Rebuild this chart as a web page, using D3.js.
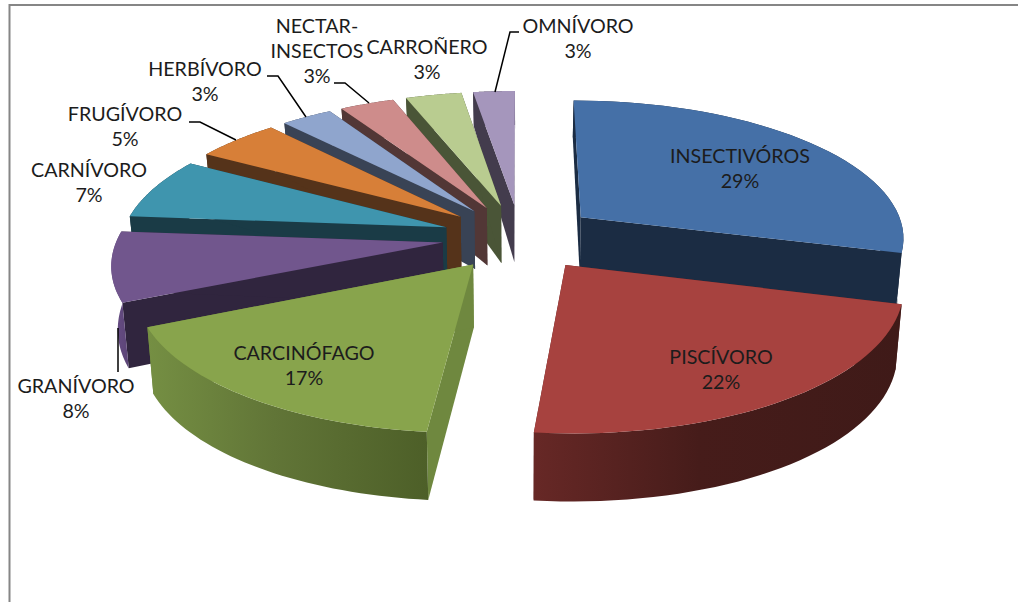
<!DOCTYPE html>
<html>
<head>
<meta charset="utf-8">
<script src="https://cdn.jsdelivr.net/npm/d3@7"></script>
<style>
  html, body { margin: 0; padding: 0; background: #fff; overflow: hidden; }
  svg { display: block; }
  text { font-family: Lato, "Noto Sans", sans-serif; font-size: 19.7px; fill: #1c1c1c; text-anchor: middle; }
</style>
</head>
<body>
<svg id="chart" width="1018" height="602"></svg>
<script>
// values
const categories = ["INSECTIVÓROS", "PISCÍVORO", "CARCINÓFAGO", "GRANÍVORO", "CARNÍVORO",
  "FRUGÍVORO", "HERBÍVORO", "NECTAR-INSECTOS", "CARROÑERO", "OMNÍVORO"];
// printed percentages
const percents = [29, 22, 17, 8, 7, 5, 3, 3, 3, 3];
// slice sizes as measured, the printed ones are rounded
const shares = [29.2, 22.4, 16.7, 8, 7.1, 4.87, 2.96, 3.14, 3.23, 2.4];

const topColors = ["#4570a7", "#a7423f", "#88a44c", "#71568d", "#3f95ae", "#d77f38", "#8fa5cd", "#ce8c8b", "#b9cc90", "#a596bc"];
const wallColors = ["#1b2c43", "#5a2220", "#6f883f", "#30253e", "#1a3b46", "#55331a", "#394355", "#523736", "#4a5537", "#433c4d"];
const outerLeft = ["#1b2c43", "#672826", "#758f43", "#6a5086", "#1a3b46", "#55331a", "#394355", "#523736", "#4a5537", "#433c4d"];
const outerMid = ["#1b2c43", "#461c1a", "#617537", "#634a80", "#1a3b46", "#55331a", "#394355", "#523736", "#4a5537", "#433c4d"];
const outerRight = ["#1b2c43", "#3f1a18", "#4d5f28", "#5c4577", "#1a3b46", "#55331a", "#394355", "#523736", "#4a5537", "#433c4d"];

// label placement, [x, y of first line]
const labelLines = [["INSECTIVÓROS"], ["PISCÍVORO"], ["CARCINÓFAGO"], ["GRANÍVORO"], ["CARNÍVORO"],
  ["FRUGÍVORO"], ["HERBÍVORO"], ["NECTAR-", "INSECTOS"], ["CARROÑERO"], ["OMNÍVORO"]];
const labelAt = [[740, 163], [721, 364], [304, 360], [76, 393], [89, 177], [125, 121], [205, 76], [317, 33], [427, 54], [578, 33]];
const leaders = [
  [[189, 122], [200, 122], [236, 140]],
  [[267, 76], [278, 76], [306, 117]],
  [[334, 83], [345, 83], [369, 103]],
  [[519, 32], [510, 32], [495, 92]],
  [[118, 328], [118, 372]]
];

const svg = d3.select("#chart");

// chart frame, only top and left show
svg.append("path")
  .attr("d", "M1018,5H9.5V602")
  .attr("fill", "none")
  .attr("stroke", "#868686")
  .attr("stroke-width", 2);

const cx = 520, cy = 237;
const x = d3.scaleLinear().domain([0, 1]).range([cx, cx + 325]);
const y = d3.scaleLinear().domain([0, 1]).range([cy, cy - 137.5]);
const persp = 0.135, explode = 0.24;

const project = (a, b) => {
  const s = 1 / (1 + persp * b);
  return [x(a * s), y(b * s)];
};
// extrusion gets shorter to the back of the pie
const depth = (b) => 60.7 - 13.7 * b - 6.3 * b * b;
const lower = (a, b) => {
  const p = project(a, b);
  return [cx + (p[0] - cx) * 0.984, p[1] + depth(b)];
};

const pie = d3.pie().sort(null).value((d) => d);
const arcs = pie(shares);

const sliceGeom = (d) => {
  const mid = (d.startAngle + d.endAngle) / 2;
  const ox = explode * Math.sin(mid);
  const oy = explode * Math.cos(mid);
  const steps = d3.range(0, 41).map((i) => d.startAngle + (d.endAngle - d.startAngle) * i / 40);
  const rim = steps.map((t) => [ox + Math.sin(t), oy + Math.cos(t)]);
  return { apex: [ox, oy], rim };
};

const line = d3.line();
const defs = svg.append("defs");

arcs.forEach((d, i) => {
  const g = defs.append("linearGradient").attr("id", "outer" + i);
  g.append("stop").attr("offset", "0").attr("stop-color", outerLeft[i]);
  g.append("stop").attr("offset", "0.45").attr("stop-color", outerMid[i]);
  g.append("stop").attr("offset", "1").attr("stop-color", outerRight[i]);
});

// back slices first, walking round to the front ones
const order = [9, 8, 7, 6, 5, 4, 3, 0, 1, 2];

const slices = svg.append("g")
  .selectAll("g")
  .data(order)
  .join("g");

slices.each(function (i) {
  const g = d3.select(this);
  const geom = sliceGeom(arcs[i]);
  const first = geom.rim[0];
  const last = geom.rim[geom.rim.length - 1];

  [first, last].forEach((p) => {
    g.append("path")
      .attr("d", line([project(...geom.apex), project(...p), lower(...p), lower(...geom.apex)]) + "Z")
      .attr("fill", wallColors[i]);
  });

  const outerPts = geom.rim.map((p) => project(...p)).concat(geom.rim.slice().reverse().map((p) => lower(...p)));
  g.append("path")
    .attr("d", line(outerPts) + "Z")
    .attr("fill", `url(#outer${i})`);

  const topPts = [project(...geom.apex)].concat(geom.rim.map((p) => project(...p)));
  g.append("path")
    .attr("d", line(topPts) + "Z")
    .attr("fill", topColors[i]);
});

svg.append("g")
  .selectAll("path")
  .data(leaders)
  .join("path")
  .attr("d", (d) => line(d))
  .attr("fill", "none")
  .attr("stroke", "#000")
  .attr("stroke-width", 1.5);

const labels = svg.append("g")
  .selectAll("text")
  .data(categories)
  .join("text")
  .attr("x", (d, i) => labelAt[i][0])
  .attr("y", (d, i) => labelAt[i][1]);

labels.each(function (d, i) {
  const lines = labelLines[i].concat([percents[i] + "%"]);
  d3.select(this)
    .selectAll("tspan")
    .data(lines)
    .join("tspan")
    .attr("x", labelAt[i][0])
    .attr("dy", (l, j) => (j === 0 ? 0 : 25))
    .text((l) => l);
});
</script>
</body>
</html>
